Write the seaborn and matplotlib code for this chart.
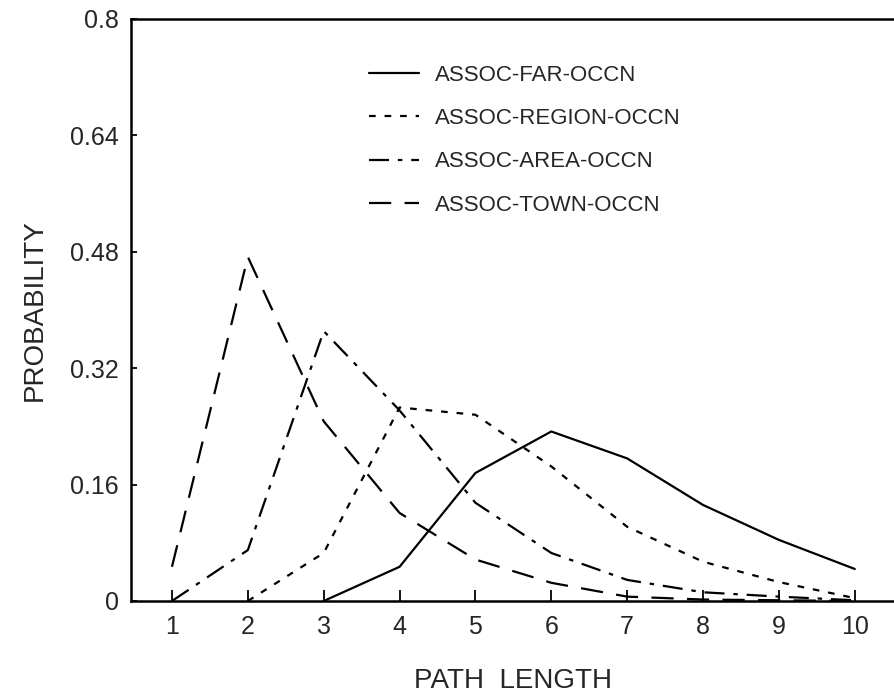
import matplotlib
matplotlib.use("Agg")
import matplotlib.pyplot as plt
import seaborn as sns
import pandas as pd

path_length = [1, 2, 3, 4, 5, 6, 7, 8, 9, 10]
far = [None, None, 0.0, 0.047, 0.176, 0.233, 0.196, 0.132, 0.084, 0.044]
region = [None, 0.0, 0.066, 0.266, 0.256, 0.185, 0.102, 0.054, 0.026, 0.004]
area = [0.0, 0.070, 0.371, 0.262, 0.135, 0.066, 0.029, 0.012, 0.006, 0.001]
town = [0.047, 0.473, 0.247, 0.121, 0.057, 0.025, 0.006, 0.002, 0.001, 0.0]
series_names = ["ASSOC-FAR-OCCN", "ASSOC-REGION-OCCN", "ASSOC-AREA-OCCN", "ASSOC-TOWN-OCCN"]
y_ticks = [0, 0.16, 0.32, 0.48, 0.64, 0.8]
y_ticklabels = ["0", "0.16", "0.32", "0.48", "0.64", "0.8"]

sns.set_theme(style="ticks")
plt.rcParams["font.family"] = ["Liberation Sans", "DejaVu Sans"]

fig = plt.figure(figsize=(8.95, 6.98), dpi=100)
ax = fig.add_axes([131 / 895, 97 / 698, 764 / 895, 582 / 698])

styles = ["-", (0, (3, 4)), (0, (9, 4, 2, 4)), (0, (10, 6))]
for name, vals, ls in zip(series_names, [far, region, area, town], styles):
    df = pd.DataFrame({"x": path_length, "y": vals}).dropna()
    sns.lineplot(data=df, x="x", y="y", ax=ax, color="black", linewidth=1.6,
                 linestyle=ls, label=name)

ax.set_xlim(0.46, 10.53)
ax.set_ylim(0, 0.8)
ax.set_xticks(path_length)
ax.set_xticklabels([str(v) for v in path_length], fontsize=18)
ax.set_yticks(y_ticks)
ax.set_yticklabels(y_ticklabels, fontsize=18)
ax.tick_params(axis="x", direction="in", length=8, width=1.3, color="black", pad=10)
ax.tick_params(axis="y", direction="in", length=4, width=1.3, color="black", pad=9)
ax.spines["right"].set_visible(False)
for s in ["left", "bottom", "top"]:
    ax.spines[s].set_linewidth(1.8)
    ax.spines[s].set_color("black")

ax.set_xlabel("PATH  LENGTH", fontsize=20, labelpad=21)
ax.set_ylabel("PROBABILITY", fontsize=20, labelpad=16)

leg = ax.legend(loc="upper left", bbox_to_anchor=(0.3115, 0.921), frameon=False,
                fontsize=16, handlelength=2.25, handletextpad=0.72,
                labelspacing=1.0, borderpad=0, borderaxespad=0)

fig.savefig("out.png", dpi=100, facecolor="white")
